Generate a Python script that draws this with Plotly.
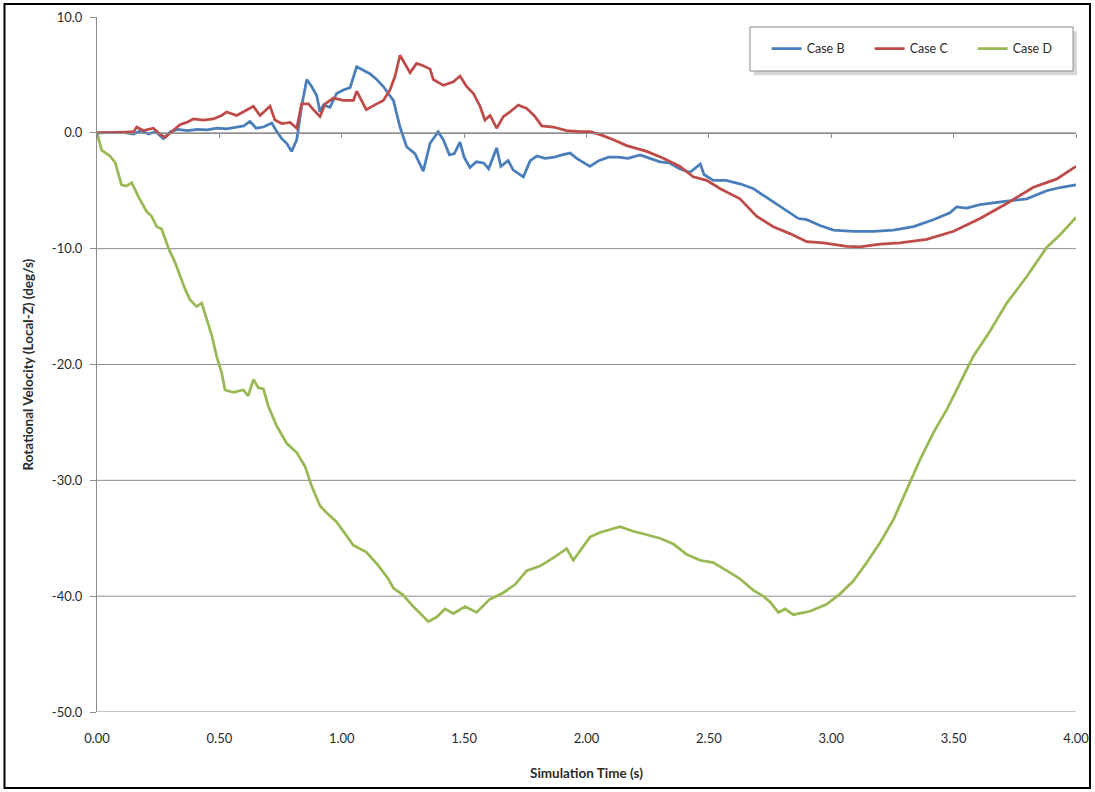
import plotly.graph_objects as go

# Rotational velocity about local Z for three simulation cases
case_b_t = [0, 0.05, 0.10, 0.15, 0.18, 0.21, 0.24, 0.271, 0.30, 0.33, 0.37, 0.41, 0.45, 0.49,
            0.53, 0.57, 0.60, 0.625, 0.65, 0.68, 0.714, 0.735, 0.755, 0.775, 0.795, 0.816,
            0.836, 0.857, 0.877, 0.898, 0.911, 0.925, 0.952, 0.979, 1.006, 1.034, 1.061, 1.088,
            1.115, 1.143, 1.170, 1.19, 1.211, 1.238, 1.265, 1.299, 1.333, 1.361, 1.394, 1.415,
            1.44, 1.46, 1.483, 1.50, 1.524, 1.55, 1.58, 1.60, 1.633, 1.65, 1.68, 1.70, 1.742,
            1.77, 1.797, 1.83, 1.87, 1.90, 1.933, 1.96, 1.99, 2.014, 2.05, 2.09, 2.13, 2.17,
            2.219, 2.26, 2.30, 2.34, 2.38, 2.423, 2.45, 2.465, 2.48, 2.518, 2.57, 2.627, 2.68,
            2.736, 2.804, 2.866, 2.90, 2.954, 3.009, 3.09, 3.172, 3.254, 3.336, 3.417, 3.485,
            3.512, 3.553, 3.608, 3.717, 3.799, 3.88, 3.94, 4.00]
case_b_v = [0.0, 0.0, 0.05, -0.1, 0.2, -0.1, 0.1, -0.5, 0.1, 0.3, 0.2, 0.3, 0.25, 0.4,
            0.35, 0.5, 0.6, 1.0, 0.4, 0.5, 0.85, 0.1, -0.5, -0.9, -1.6, -0.6,
            2.3, 4.6, 4.0, 3.2, 1.8, 2.4, 2.2, 3.4, 3.7, 3.9, 5.7, 5.4,
            5.1, 4.6, 4.0, 3.4, 2.8, 0.5, -1.2, -1.8, -3.3, -0.9, 0.1, -0.6,
            -1.9, -1.8, -0.8, -2.1, -3.0, -2.5, -2.6, -3.1, -1.3, -2.9, -2.4, -3.2, -3.8,
            -2.4, -2.0, -2.2, -2.1, -1.9, -1.75, -2.2, -2.6, -2.9, -2.4, -2.1, -2.1, -2.2,
            -1.9, -2.2, -2.5, -2.6, -3.1, -3.4, -3.0, -2.7, -3.6, -4.1, -4.1, -4.4, -4.8,
            -5.6, -6.5, -7.4, -7.5, -8.0, -8.4, -8.5, -8.5, -8.4, -8.1, -7.5, -6.9,
            -6.4, -6.5, -6.2, -5.9, -5.7, -5.0, -4.7, -4.5]

case_c_t = [0, 0.05, 0.10, 0.15, 0.162, 0.189, 0.23, 0.257, 0.278, 0.305, 0.339, 0.366, 0.394,
            0.434, 0.475, 0.509, 0.53, 0.571, 0.61, 0.639, 0.666, 0.707, 0.727, 0.755, 0.789,
            0.816, 0.836, 0.864, 0.884, 0.911, 0.932, 0.966, 1.006, 1.048, 1.061, 1.10, 1.143,
            1.17, 1.197, 1.218, 1.238, 1.258, 1.279, 1.306, 1.333, 1.361, 1.374, 1.415, 1.456,
            1.483, 1.51, 1.538, 1.565, 1.585, 1.606, 1.633, 1.66, 1.687, 1.721, 1.756, 1.79,
            1.817, 1.864, 1.919, 1.973, 2.014, 2.062, 2.11, 2.164, 2.246, 2.314, 2.382, 2.436,
            2.491, 2.545, 2.627, 2.695, 2.763, 2.831, 2.90, 2.968, 3.064, 3.117, 3.20, 3.281,
            3.39, 3.50, 3.608, 3.717, 3.826, 3.92, 4.00]
case_c_v = [0.0, 0.0, 0.05, 0.1, 0.5, 0.2, 0.4, -0.1, -0.4, 0.1, 0.7, 0.9, 1.2,
            1.1, 1.2, 1.5, 1.8, 1.5, 2.0, 2.3, 1.5, 2.3, 1.1, 0.8, 0.9,
            0.4, 2.5, 2.5, 2.0, 1.4, 2.5, 3.0, 2.8, 2.8, 3.6, 2.0, 2.5,
            2.8, 3.7, 4.9, 6.7, 6.0, 5.2, 6.0, 5.8, 5.5, 4.6, 4.1, 4.4,
            4.9, 4.0, 3.4, 2.3, 1.1, 1.5, 0.4, 1.4, 1.8, 2.4, 2.1, 1.4,
            0.6, 0.5, 0.2, 0.1, 0.1, -0.2, -0.6, -1.1, -1.6, -2.2, -2.9, -3.8,
            -4.1, -4.8, -5.7, -7.2, -8.1, -8.7, -9.4, -9.5, -9.8, -9.85, -9.6, -9.5,
            -9.2, -8.5, -7.4, -6.1, -4.7, -4.0, -2.9]

case_d_t = [0, 0.019, 0.033, 0.053, 0.075, 0.10, 0.12, 0.142, 0.169, 0.203, 0.223, 0.244,
            0.264, 0.291, 0.319, 0.339, 0.36, 0.38, 0.407, 0.428, 0.448, 0.469, 0.489, 0.509,
            0.523, 0.557, 0.598, 0.618, 0.639, 0.659, 0.68, 0.70, 0.734, 0.775, 0.816, 0.85,
            0.877, 0.911, 0.938, 0.979, 1.02, 1.047, 1.10, 1.143, 1.19, 1.211, 1.251, 1.292,
            1.326, 1.354, 1.388, 1.422, 1.456, 1.504, 1.551, 1.603, 1.66, 1.708, 1.756, 1.81,
            1.864, 1.919, 1.946, 1.973, 2.014, 2.055, 2.11, 2.137, 2.191, 2.246, 2.30, 2.355,
            2.41, 2.464, 2.518, 2.573, 2.627, 2.682, 2.722, 2.75, 2.784, 2.811, 2.845, 2.913,
            2.981, 3.036, 3.09, 3.145, 3.199, 3.254, 3.308, 3.363, 3.417, 3.472, 3.526, 3.58,
            3.649, 3.717, 3.799, 3.88, 3.935, 4.00]
case_d_v = [0.0, -1.5, -1.7, -2.0, -2.6, -4.5, -4.6, -4.3, -5.5, -6.8, -7.2, -8.1,
            -8.3, -9.9, -11.2, -12.4, -13.5, -14.4, -15.0, -14.7, -16.1, -17.5, -19.3, -20.7,
            -22.2, -22.4, -22.2, -22.7, -21.3, -22.0, -22.1, -23.6, -25.3, -26.8, -27.6, -28.8,
            -30.5, -32.2, -32.8, -33.6, -34.8, -35.6, -36.2, -37.2, -38.5, -39.3, -39.9, -40.9,
            -41.6, -42.2, -41.8, -41.1, -41.5, -40.9, -41.4, -40.3, -39.7, -39.0, -37.8, -37.4,
            -36.7, -35.9, -36.9, -36.1, -34.9, -34.5, -34.2, -34.0, -34.4, -34.7, -35.0, -35.5,
            -36.4, -36.9, -37.1, -37.8, -38.5, -39.5, -40.0, -40.5, -41.4, -41.1, -41.6, -41.3,
            -40.7, -39.8, -38.7, -37.1, -35.4, -33.4, -30.8, -28.2, -25.9, -23.9, -21.6, -19.3,
            -17.1, -14.7, -12.4, -9.9, -8.8, -7.3]

series_names = ["Case B", "Case C", "Case D"]
series_colors = ["#4A7EBB", "#BE4B48", "#98B954"]

x_ticks = [0.0, 0.5, 1.0, 1.5, 2.0, 2.5, 3.0, 3.5, 4.0]
y_ticks = [-50.0, -40.0, -30.0, -20.0, -10.0, 0.0, 10.0]

font_family = "Lato, 'Open Sans', sans-serif"
text_color = "#2b2b2b"
grid_color = "#8c8c8c"

fig = go.Figure()
for name, color, t, v in zip(series_names, series_colors,
                             [case_b_t, case_c_t, case_d_t],
                             [case_b_v, case_c_v, case_d_v]):
    fig.add_trace(go.Scatter(x=t, y=v, mode="lines", name=name,
                             line=dict(color=color, width=2.75), xaxis="x", yaxis="y"))

# horizontal gridlines (none at the top edge)
shapes = []
for yv in y_ticks[:-1]:
    shapes.append(dict(type="line", xref="paper", yref="y", x0=0, x1=1, y0=yv, y1=yv,
                       line=dict(color=grid_color, width=1), layer="below"))

# legend frame with a soft drop shadow
lx0, lx1, ly0, ly1 = 0.667, 0.997, 0.9223, 0.9856
shapes.append(dict(type="rect", xref="paper", yref="paper",
                   x0=lx0 + 0.004, x1=lx1 + 0.004, y0=ly0 - 0.006, y1=ly1 - 0.006,
                   line=dict(width=0), fillcolor="rgba(0,0,0,0.16)", layer="above"))
shapes.append(dict(type="rect", xref="paper", yref="paper",
                   x0=lx0, x1=lx1, y0=ly0, y1=ly1,
                   line=dict(color="#8a8a8a", width=1), fillcolor="white", layer="above"))

# outer chart frame
shapes.append(dict(type="rect", xref="paper", yref="paper",
                   x0=-0.0945, x1=1.0143, y0=-0.1094, y1=1.0187,
                   line=dict(color="black", width=2), fillcolor="rgba(0,0,0,0)"))

fig.update_layout(
    width=1095, height=792,
    margin=dict(l=97, r=19, t=17, b=80, autoexpand=False),
    paper_bgcolor="white", plot_bgcolor="white",
    font=dict(family=font_family, size=13, color=text_color),
    showlegend=True,
    legend=dict(orientation="h", x=0.684, y=0.954, xanchor="left", yanchor="middle",
                bgcolor="rgba(0,0,0,0)", borderwidth=0,
                font=dict(size=12.5, color=text_color),
                entrywidth=58, entrywidthmode="pixels", itemwidth=30),
    xaxis=dict(range=[0, 4], tickvals=x_ticks, ticktext=[f"{v:.2f}" for v in x_ticks],
               showgrid=False, zeroline=False, showline=False, ticks="",
               ticklabelstandoff=17, tickfont=dict(size=13)),
    xaxis2=dict(range=[0, 4], tickvals=x_ticks, overlaying="x", anchor="free",
                position=50 / 60, side="bottom", showline=True, linecolor=grid_color,
                linewidth=1, ticks="outside", ticklen=4, tickcolor=grid_color,
                showticklabels=False, showgrid=False, zeroline=False),
    yaxis=dict(range=[-50, 10], tickvals=y_ticks, ticktext=[f"{v:.1f}" for v in y_ticks],
               showgrid=False, zeroline=False, showline=True, linecolor=grid_color,
               linewidth=1, ticks="outside", ticklen=6, tickcolor=grid_color,
               ticklabelstandoff=5, tickfont=dict(size=13)),
    shapes=shapes,
    annotations=[
        dict(text="<b>Simulation Time (s)</b>", xref="paper", yref="paper",
             x=0.5, y=-0.088, xanchor="center", yanchor="middle", showarrow=False,
             font=dict(size=13.5, color=text_color)),
        dict(text="<b>Rotational Velocity (Local-Z) (deg/s)</b>", xref="paper", yref="paper",
             x=-0.0715, y=0.5, xanchor="center", yanchor="middle", textangle=-90,
             showarrow=False, font=dict(size=13.5, color=text_color)),
    ],
)

# invisible trace to carry the secondary x axis at y = 0
fig.add_trace(go.Scatter(x=[0, 4], y=[0, 0], xaxis="x2", yaxis="y", mode="lines",
                         line=dict(width=0), showlegend=False, hoverinfo="skip"))

fig.write_html("out.html")
